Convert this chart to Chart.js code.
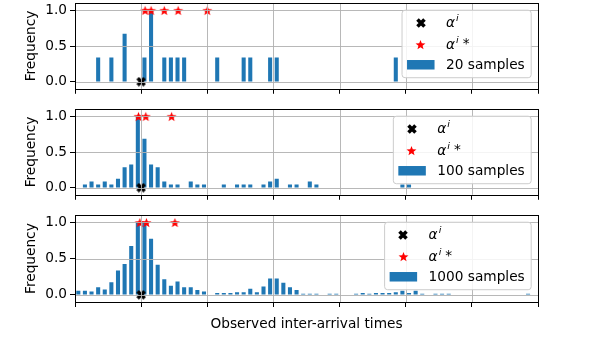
<!DOCTYPE html>
<html>
<head>
<meta charset="utf-8">
<script src="https://cdn.jsdelivr.net/npm/chart.js@4"></script>
<style>
  body { margin: 0; background: #fff; overflow: hidden; }
  #wrap { position: relative; width: 598px; height: 337px; overflow: hidden; }
  canvas { position: absolute; left: 0; }
</style>
</head>
<body>
<div id="wrap">
  <canvas id="c20" width="598" height="108" style="top:-8px"></canvas>
  <canvas id="c100" width="598" height="108" style="top:98px"></canvas>
  <canvas id="c1000" width="598" height="133" style="top:204px"></canvas>
</div>
<script>
// axis ticks (x labels are hidden in the original)
const xTicks = [0, 1, 2, 3, 4, 5, 6, 7];
const yTicks = [0, 0.5, 1.0];

// 20 samples
const bins20 = [0.35, 0.55, 0.75, 1.05, 1.15, 1.35, 1.45, 1.55, 1.65, 2.15, 2.55, 2.65, 2.95, 3.05, 4.85];
const freq20 = [0.333, 0.333, 0.667, 0.333, 1.0, 0.333, 0.333, 0.333, 0.333, 0.333, 0.333, 0.333, 0.333, 0.333, 0.333];
const stars20 = [1.06, 1.15, 1.35, 1.56, 2.0];

// 100 samples
const bins100 = [0.15, 0.25, 0.35, 0.45, 0.55, 0.65, 0.75, 0.85, 0.95, 1.05, 1.15, 1.25, 1.35, 1.45, 1.55,
  1.75, 1.85, 1.95, 2.25, 2.45, 2.55, 2.65, 2.85, 2.95, 3.05, 3.25, 3.35, 3.55, 3.65, 4.95, 5.05];
const freq100 = [0.04, 0.08, 0.04, 0.08, 0.04, 0.12, 0.28, 0.32, 1.0, 0.68, 0.32, 0.28, 0.08, 0.04, 0.04,
  0.08, 0.04, 0.04, 0.04, 0.04, 0.04, 0.04, 0.04, 0.08, 0.12, 0.04, 0.04, 0.08, 0.04, 0.04, 0.04];
const stars100 = [0.96, 1.07, 1.46];

// 1000 samples
const bins1000 = [0.05, 0.15, 0.25, 0.35, 0.45, 0.55, 0.65, 0.75, 0.85, 0.95, 1.05, 1.15, 1.25, 1.35, 1.45,
  1.55, 1.65, 1.75, 1.85, 1.95, 2.15, 2.25, 2.35, 2.45, 2.55, 2.65, 2.75, 2.85, 2.95, 3.05, 3.15, 3.25,
  3.35, 3.45, 3.55, 3.65, 3.85, 3.95, 4.25, 4.35, 4.45, 4.55, 4.65, 4.75, 4.85, 4.95, 5.05, 5.15, 5.25,
  5.45, 5.55, 5.65, 6.85];
const freq1000 = [0.05, 0.05, 0.04, 0.10, 0.07, 0.17, 0.33, 0.42, 0.67, 1.0, 0.99, 0.77, 0.41, 0.21, 0.12,
  0.18, 0.10, 0.10, 0.06, 0.04, 0.02, 0.02, 0.02, 0.03, 0.03, 0.08, 0.03, 0.11, 0.22, 0.22, 0.16, 0.10,
  0.06, 0.01, 0.01, 0.01, 0.01, 0.01, 0.01, 0.02, 0.01, 0.02, 0.02, 0.02, 0.03, 0.05, 0.02, 0.05, 0.01,
  0.01, 0.01, 0.01, 0.01];
const stars1000 = [0.98, 1.08, 1.51];

// true value marker
const trueX = [1.0];

const FONT = "'DejaVu Sans', sans-serif";
const FS = 13.7;
const BLUE = "#1f77b4";

Chart.defaults.font.family = FONT;
Chart.defaults.color = "#000";

function starImage(size, color) {
  const c = document.createElement("canvas");
  c.width = c.height = size;
  const g = c.getContext("2d");
  const r = size / 2 - 0.3, ri = r * 0.42;
  g.beginPath();
  for (let k = 0; k < 10; k++) {
    const a = -Math.PI / 2 + (k * Math.PI) / 5;
    const rr = k % 2 ? ri : r;
    g.lineTo(size / 2 + rr * Math.cos(a), size / 2 + 0.6 + rr * Math.sin(a));
  }
  g.closePath();
  g.fillStyle = color;
  g.fill();
  return c;
}

function xImage(size) {
  const c = document.createElement("canvas");
  c.width = c.height = size;
  const g = c.getContext("2d");
  g.strokeStyle = "#000";
  g.lineWidth = size * 0.36;
  g.beginPath();
  g.moveTo(1.5, 1.5);
  g.lineTo(size - 1.5, size - 1.5);
  g.moveTo(size - 1.5, 1.5);
  g.lineTo(1.5, size - 1.5);
  g.stroke();
  return c;
}

const starImg = starImage(11, "red");
const xImg = xImage(10);

// grid is drawn over the bars in the original, then the four spines
const gridOnTop = {
  id: "gridOnTop",
  afterDatasetsDraw(chart) {
    const { ctx, chartArea: a, scales } = chart;
    ctx.save();
    ctx.strokeStyle = "rgba(176,176,176,0.9)";
    ctx.lineWidth = 1;
    ctx.beginPath();
    scales.x.ticks.forEach((t) => {
      const px = Math.round(scales.x.getPixelForValue(t.value)) + 0.5;
      ctx.moveTo(px, a.top);
      ctx.lineTo(px, a.bottom);
    });
    scales.y.ticks.forEach((t) => {
      const py = Math.round(scales.y.getPixelForValue(t.value)) + 0.5;
      ctx.moveTo(a.left, py);
      ctx.lineTo(a.right, py);
    });
    ctx.stroke();
    ctx.strokeStyle = "#000";
    ctx.strokeRect(Math.round(a.left) + 0.5, Math.round(a.top) + 0.5,
      Math.round(a.right - a.left), Math.round(a.bottom - a.top));
    ctx.restore();
  },
};

function drawAlpha(ctx, x, y, star) {
  ctx.font = `italic ${FS}px ${FONT}`;
  ctx.fillText("α", x, y);
  const w = ctx.measureText("α").width;
  ctx.font = `italic ${FS * 0.7}px ${FONT}`;
  ctx.fillText("i", x + w + 1, y - 5);
  if (star) {
    const wi = ctx.measureText("i").width;
    ctx.font = `${FS}px ${FONT}`;
    ctx.fillText("*", x + w + wi + 5, y - 1);
  }
}

const panelLegend = {
  id: "panelLegend",
  afterDraw(chart, args, opts) {
    const { ctx, chartArea: a } = chart;
    ctx.save();
    ctx.font = `${FS}px ${FONT}`;
    const tw = ctx.measureText(opts.label).width;
    const w = 44.5 + tw + 6;
    const h = 67.5;
    const left = a.right - 7.3 - w;
    const top = a.top + 6.5;
    ctx.beginPath();
    ctx.roundRect(left + 0.5, top + 0.5, w, h, 3);
    ctx.fillStyle = "rgba(255,255,255,0.85)";
    ctx.fill();
    ctx.strokeStyle = "#cccccc";
    ctx.lineWidth = 1;
    ctx.stroke();

    const mx = left + 19;
    const tx = left + 44.5;
    const r1 = top + 13, r2 = top + 34.5, r3 = top + 55;
    ctx.drawImage(xImg, Math.round(mx - 5), Math.round(r1 - 5));
    ctx.drawImage(starImg, Math.round(mx - 5.5), Math.round(r2 - 5.5));
    ctx.fillStyle = BLUE;
    ctx.fillRect(left + 5.5, r3 - 4.7, 27.5, 9.5);

    ctx.fillStyle = "#000";
    ctx.textBaseline = "middle";
    drawAlpha(ctx, tx, r1 + 1, false);
    drawAlpha(ctx, tx, r2 + 1, true);
    ctx.font = `${FS}px ${FONT}`;
    ctx.fillText(opts.label, tx, r3 + 1);
    ctx.restore();
  },
};

function makePanel(id, bins, freq, stars, label, showXTitle) {
  const xH = showXTitle ? 35 : 10;
  return new Chart(document.getElementById(id), {
    type: "bar",
    data: {
      datasets: [
        {
          type: "scatter",
          data: trueX.map((v) => ({ x: v, y: 0 })),
          pointStyle: xImg,
          order: 0,
        },
        {
          type: "scatter",
          data: stars.map((v) => ({ x: v, y: 1 })),
          pointStyle: starImg,
          order: 1,
        },
        {
          type: "bar",
          label: label,
          data: bins.map((b, i) => ({ x: b, y: freq[i] })),
          backgroundColor: BLUE,
          borderWidth: 0,
          barThickness: 3.4,
          order: 2,
        },
      ],
    },
    options: {
      responsive: false,
      animation: false,
      devicePixelRatio: 1,
      layout: { padding: { top: 10, right: 60, left: 0, bottom: 0 } },
      plugins: {
        legend: { display: false },
        tooltip: { enabled: false },
        panelLegend: { label: label },
      },
      scales: {
        x: {
          type: "linear",
          min: 0,
          max: 7,
          offset: false,
          afterBuildTicks: (s) => { s.ticks = xTicks.map((v) => ({ value: v })); },
          afterFit: (s) => { s.height = xH; },
          ticks: { callback: () => "", padding: 0, autoSkip: false },
          grid: { offset: false, drawOnChartArea: false, tickColor: "#000", tickLength: 5 },
          border: { display: false },
          title: {
            display: showXTitle,
            text: "Observed inter-arrival times",
            font: { size: FS },
            padding: 4,
          },
        },
        y: {
          min: -0.1,
          max: 1.1,
          afterBuildTicks: (s) => { s.ticks = yTicks.map((v) => ({ value: v })); },
          afterFit: (s) => { s.width = 75; },
          ticks: { callback: (v) => v.toFixed(1), font: { size: FS }, padding: 3 },
          grid: { drawOnChartArea: false, tickColor: "#000", tickLength: 5 },
          border: { display: false },
          title: {
            display: true,
            text: "Frequency",
            font: { size: FS },
            padding: 23,
          },
        },
      },
    },
    plugins: [gridOnTop, panelLegend],
  });
}

makePanel("c20", bins20, freq20, stars20, "20 samples", false);
makePanel("c100", bins100, freq100, stars100, "100 samples", false);
makePanel("c1000", bins1000, freq1000, stars1000, "1000 samples", true);
</script>
</body>
</html>
